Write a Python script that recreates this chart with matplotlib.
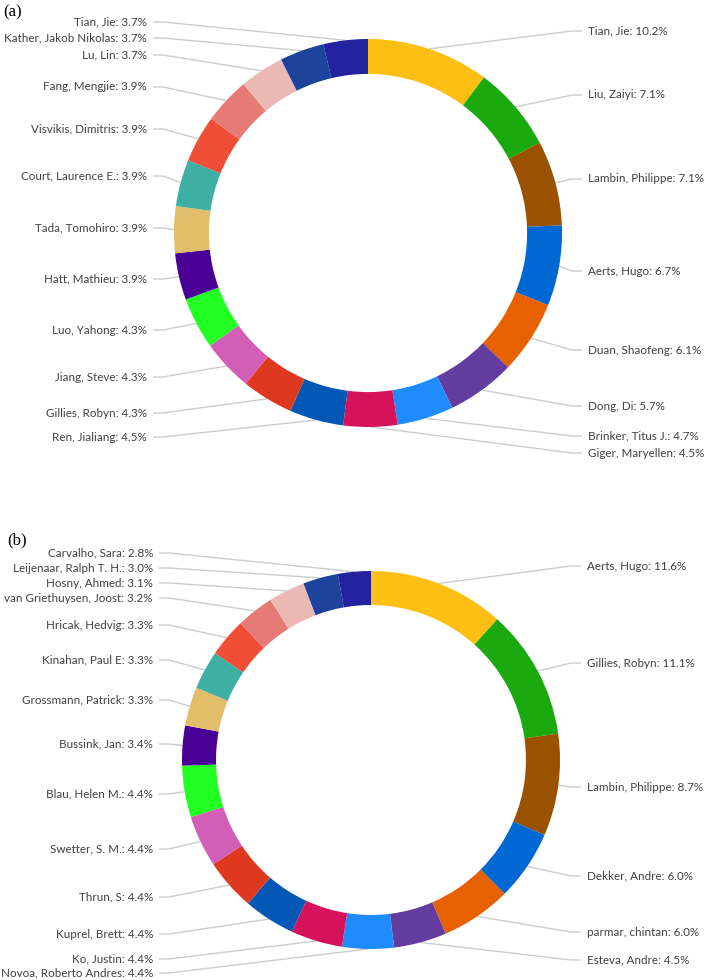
import numpy as np
import matplotlib.pyplot as plt

# (a) authors and shares, clockwise from 12 o'clock
names_a = ['Tian, Jie', 'Liu, Zaiyi', 'Lambin, Philippe', 'Aerts, Hugo', 'Duan, Shaofeng',
           'Dong, Di', 'Brinker, Titus J.', 'Giger, Maryellen', 'Ren, Jialiang', 'Gillies, Robyn',
           'Jiang, Steve', 'Luo, Yahong', 'Hatt, Mathieu', 'Tada, Tomohiro', 'Court, Laurence E.',
           'Visvikis, Dimitris', 'Fang, Mengjie', 'Lu, Lin', 'Kather, Jakob Nikolas', 'Tian, Jie']
values_a = [10.2, 7.1, 7.1, 6.7, 6.1, 5.7, 4.7, 4.5, 4.5, 4.3,
            4.3, 4.3, 3.9, 3.9, 3.9, 3.9, 3.9, 3.7, 3.7, 3.7]

# (b)
names_b = ['Aerts, Hugo', 'Gillies, Robyn', 'Lambin, Philippe', 'Dekker, Andre', 'parmar, chintan',
           'Esteva, Andre', 'Novoa, Roberto Andres', 'Ko, Justin', 'Kuprel, Brett', 'Thrun, S',
           'Swetter, S. M.', 'Blau, Helen M.', 'Bussink, Jan', 'Grossmann, Patrick', 'Kinahan, Paul E',
           'Hricak, Hedvig', 'van Griethuysen, Joost', 'Hosny, Ahmed', 'Leijenaar, Ralph T. H.', 'Carvalho, Sara']
values_b = [11.6, 11.1, 8.7, 6.0, 6.0, 4.5, 4.4, 4.4, 4.4, 4.4,
            4.4, 4.4, 3.4, 3.3, 3.3, 3.3, 3.2, 3.1, 3.0, 2.8]

colors = ['#fdbf11', '#1aa90f', '#9a5100', '#0068d3', '#e86100', '#633ca0', '#1e8cff',
          '#d6135a', '#0358b5', '#de381f', '#d35eb7', '#22ff22', '#4b0095', '#e2be6b',
          '#3eb0a3', '#f04e37', '#e67a74', '#ecb8b4', '#1e439c', '#23229e']

# label layout (pixel rows of the label texts)
label_y_a = [31, 95, 179, 271, 350, 406, 436, 453, 437, 413,
             377, 330, 279, 228, 176, 129, 87, 55, 38, 22]
label_y_b = [566, 663, 787, 876, 932, 960, 973, 959, 934, 897,
             849, 794, 744, 700, 660, 625, 598, 583, 568, 553]

fig = plt.figure(figsize=(7.08, 9.8), dpi=100)
ax = fig.add_axes([0, 0, 1, 1])


def donut(ax, names, values, center, radius, label_y, left_x, right_x, split):
    ax.pie(values, colors=colors, startangle=-90, counterclock=True,
           center=center, radius=radius,
           wedgeprops=dict(width=radius * 0.18, edgecolor='none'))
    vals = np.array(values, dtype=float)
    frac = vals / vals.sum()
    mids = np.cumsum(frac) - frac / 2
    for i, (n, v) in enumerate(zip(names, values)):
        ang = np.deg2rad(-90 + 360 * mids[i])
        px = center[0] + radius * np.cos(ang)
        py = center[1] + radius * np.sin(ang)
        ly = label_y[i]
        if i < split:
            tx, ha = right_x, 'left'
            xs = [tx - 6, tx - 16, px]
        else:
            tx, ha = left_x, 'right'
            xs = [tx + 6, tx + 16, px]
        ax.plot(xs, [ly, ly, py], color='#cccccc', lw=1.0, solid_capstyle='butt', zorder=0)
        ax.text(tx, ly, f'{n}: {v:.1f}%', ha=ha, va='center', fontsize=8.4,
                family='Lato', color='#404040')


donut(ax, names_a, values_a, (368, 233), 194, label_y_a, 147, 588, 8)
donut(ax, names_b, values_b, (371, 760), 189, label_y_b, 153, 587, 6)

ax.text(3, 12, '(a)', ha='left', va='center', fontsize=12, family='Liberation Serif')
ax.text(7, 540, '(b)', ha='left', va='center', fontsize=12, family='Liberation Serif')

ax.set_xlim(0, 708)
ax.set_ylim(980, 0)
ax.set_aspect('auto')
ax.axis('off')

fig.savefig('out.png', dpi=100)
